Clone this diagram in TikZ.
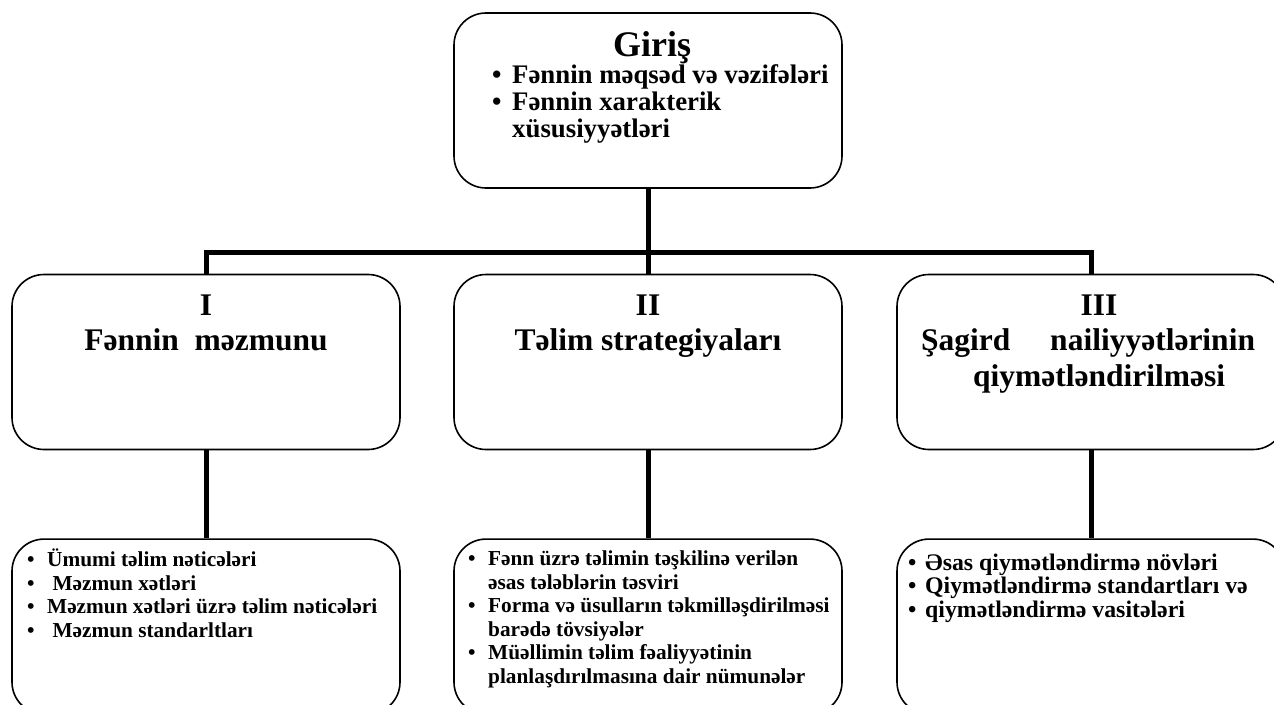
\documentclass[tikz,border=0pt]{standalone}
\usepackage{fontspec}
\setmainfont{Liberation Serif}
\usetikzlibrary{positioning}

\tikzset{
  box/.style={draw, rounded corners=32pt, line width=1.6pt, minimum width=388pt, minimum height=175pt, inner sep=0pt},
  conn/.style={line width=5pt, line join=miter},
  head/.style={align=center, inner sep=0pt, anchor=base, font=\fontsize{31.5}{35}\selectfont\bfseries},
  lst/.style={align=left, inner sep=0pt, anchor=base west, font=\fontsize{21.3}{23.5}\selectfont\bfseries},
}
\newcommand{\itm}{\makebox[20pt][l]{\textbullet}}
\newcommand{\gap}{\hspace*{20pt}}

\begin{document}
\begin{tikzpicture}[x=1pt, y=-1pt]
  \useasboundingbox (0,0) rectangle (1274,704);
  \clip (0,0) rectangle (1274,704);
  % boxes
  \node[box] (intro) at (648,100.5) {};
  \node[box] (sI)   at (206,362) {};
  \node[box] (sII)  at (648,362) {};
  \node[box] (sIII) at (1091,362) {};
  \node[box, below=88pt of sI]   (bI)   {};
  \node[box, below=88pt of sII]  (bII)  {};
  \node[box, below=88pt of sIII] (bIII) {};
  \coordinate (bus) at (648,252);

  % connectors
  \draw[conn] (intro.south) -- (bus);
  \draw[conn] (sI.north) |- (bus) -| (sIII.north);
  \draw[conn] (bus) -- (sII.north);
  \foreach \s/\b in {sI/bI, sII/bII, sIII/bIII}
    \draw[conn] (\s.south) -- (\b.north);

  % texts (base = last line)
  \node[head, font=\fontsize{36}{36}\selectfont\bfseries] (introhead) at (652,56) {Giriş};
  \node[lst, font=\fontsize{26.8}{27}\selectfont\bfseries] (introlist) at (492,137)
    {\itm Fənnin məqsəd və vəzifələri\\ \itm Fənnin xarakterik\\ \gap xüsusiyyətləri};
  \node[head] (headI)   at (206,350)  {I\\ Fənnin\ \ məzmunu};
  \node[head] (headII)  at (648,350)  {II\\ Təlim strategiyaları};
  \node[head, font=\fontsize{31.5}{35.5}\selectfont\bfseries] (headIII) at (1099,386)
    {III\\ Şagird\hspace{40pt}nailiyyətlərinin\hspace*{22pt}\null\\ qiymətləndirilməsi};

  \node[lst] (listI) at (27,637)
    {\itm Ümumi təlim nəticələri\\ \itm\ Məzmun xətləri\\ \itm Məzmun xətləri üzrə təlim nəticələri\\ \itm\ Məzmun standarltları};
  \node[lst] (listII) at (468,683)
    {\itm Fənn üzrə təlimin təşkilinə verilən\\ \gap əsas tələblərin təsviri\\ \itm Forma və üsulların təkmilləşdirilməsi\\ \gap barədə tövsiyələr\\ \itm Müəllimin təlim fəaliyyətinin\\ \gap planlaşdırılmasına dair nümunələr};
  \node[lst, font=\fontsize{23.8}{23.5}\selectfont\bfseries] (listIII) at (908,617)
    {\makebox[17pt][l]{\textbullet}Əsas qiymətləndirmə növləri\\ \makebox[17pt][l]{\textbullet}Qiymətləndirmə standartları və\\ \makebox[17pt][l]{\textbullet}qiymətləndirmə vasitələri};
\end{tikzpicture}
\end{document}
